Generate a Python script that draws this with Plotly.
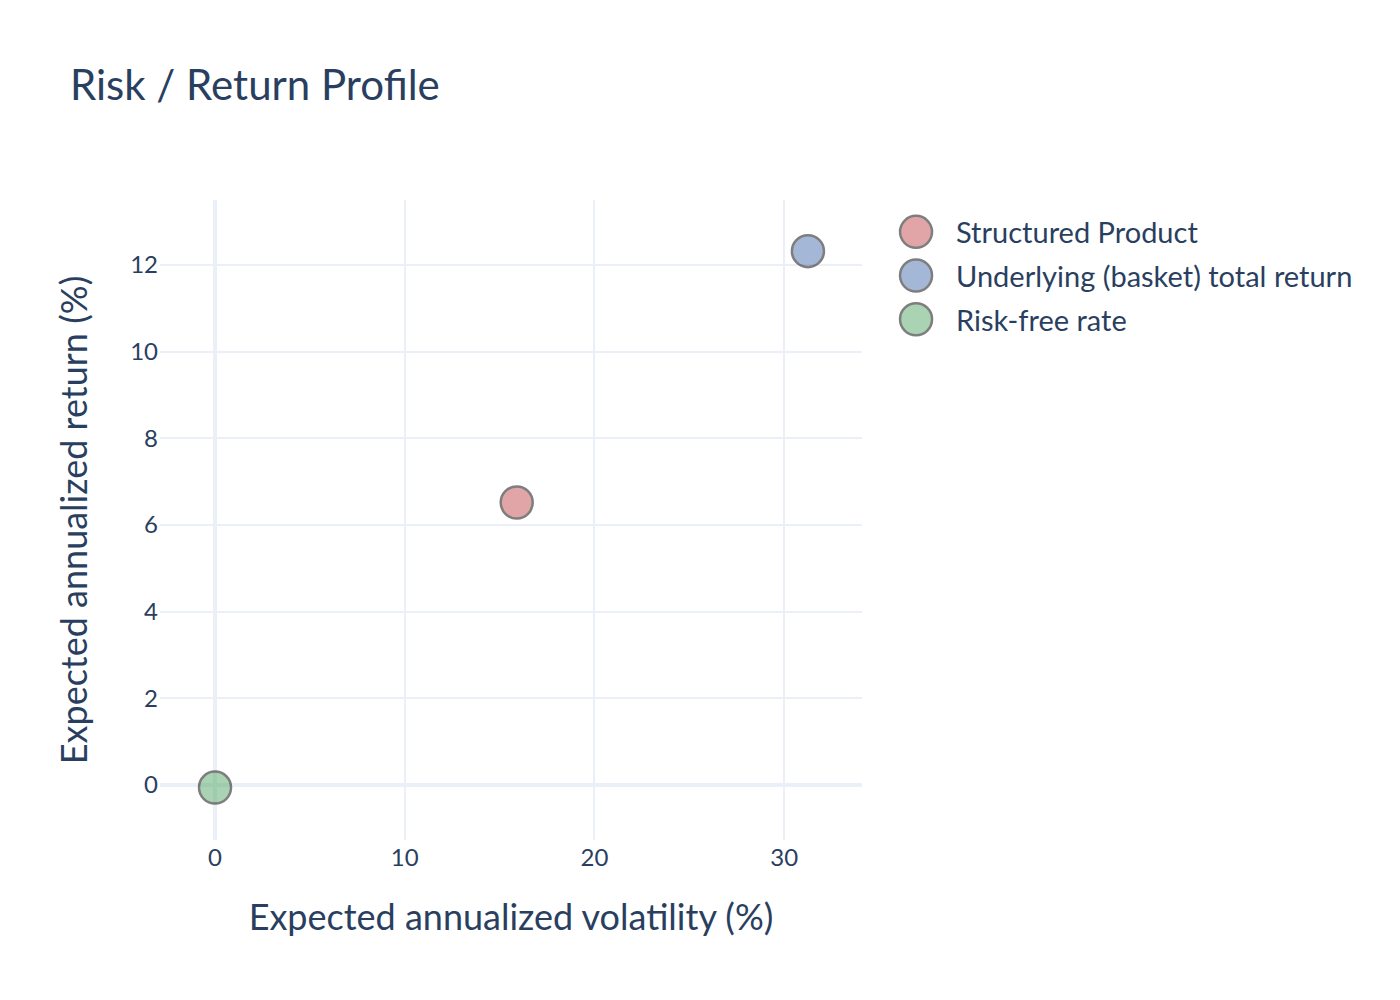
import plotly.graph_objects as go

names = ["Structured Product", "Underlying (basket) total return", "Risk-free rate"]
volatility = [15.9, 31.25, 0.0]
returns = [6.52, 12.32, -0.06]
colors = ["#c44e52", "#4c72b0", "#55a868"]

FONT = "Lato"
INK = "#2a3f5f"

fig = go.Figure()
for n, xv, yv, c in zip(names, volatility, returns, colors):
    fig.add_trace(go.Scatter(
        x=[xv], y=[yv], mode="markers", name=n,
        marker=dict(size=16, color=c, opacity=0.5,
                    line=dict(width=1.25, color="#000000")),
    ))

# Figure laid out at 700x500 and displayed at 2x (as the reference export)
fig.update_layout(
    width=700, height=500,
    template="plotly_white",
    font=dict(family=FONT, color=INK, size=12),
    title=dict(text="Risk / Return Profile", x=0.05, xanchor="left",
               y=0.915, yanchor="middle", font=dict(size=21, family=FONT, color=INK)),
    margin=dict(l=80, r=269, t=100, b=80, autoexpand=False),
    legend=dict(x=1.02, y=1.0, xanchor="left", yanchor="top",
                font=dict(size=14.5, family=FONT, color=INK), itemsizing="trace",
                tracegroupgap=0),
    showlegend=True,
)
fig.update_xaxes(title=dict(text="Expected annualized volatility (%)", font=dict(size=18), standoff=17),
                 range=[-2.9, 34.1], dtick=10, tickfont=dict(size=12),
                 gridcolor="#EBF0F8", gridwidth=1, zerolinecolor="#EBF0F8", zerolinewidth=2)
fig.update_yaxes(title=dict(text="Expected annualized return (%)", font=dict(size=18), standoff=16),
                 range=[-1.27, 13.5], dtick=2, tickfont=dict(size=12),
                 gridcolor="#EBF0F8", gridwidth=1, zerolinecolor="#EBF0F8", zerolinewidth=2)

post = ("document.documentElement.style.overflow='hidden';"
        "document.body.style.margin='0';"
        "document.body.style.overflow='hidden';"
        "document.body.style.zoom='2';")
fig.write_html("out.html", post_script=post, config={"displayModeBar": False})
